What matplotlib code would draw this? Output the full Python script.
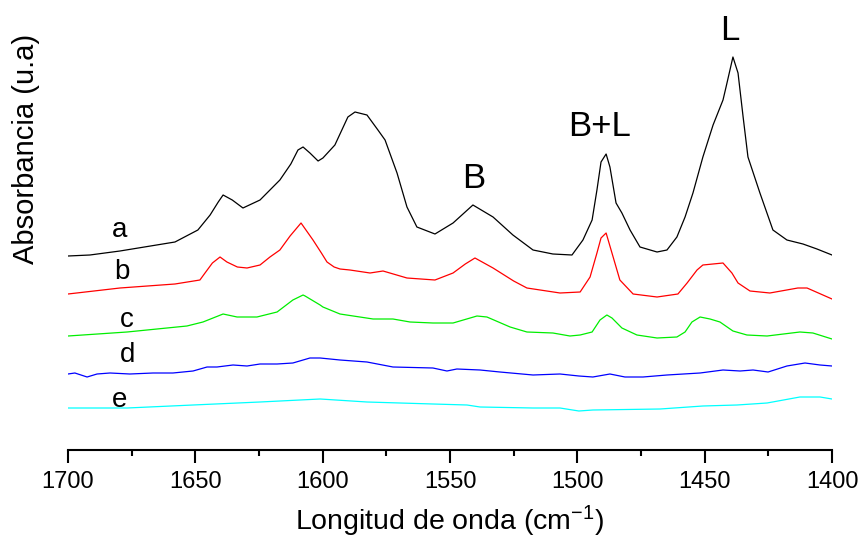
import matplotlib
matplotlib.use('Agg')
import matplotlib.pyplot as plt
from matplotlib.ticker import MultipleLocator

plt.rcParams['font.family'] = ['Liberation Sans', 'DejaVu Sans']
plt.rcParams['mathtext.default'] = 'regular'

# spectrum a (black)
wn_a = [1700, 1691.4, 1679.6, 1658.0, 1649.0, 1644.2, 1641.0, 1639.1, 1635.5, 1631.3,
        1624.6, 1620.7, 1616.8, 1612.5, 1609.7, 1607.7, 1605.0, 1601.8, 1599.9, 1595.2,
        1590.1, 1587.3, 1582.6, 1578.3, 1575.5, 1570.8, 1566.9, 1563.0, 1555.9, 1548.8,
        1541.0, 1533.1, 1525.3, 1517.4, 1509.6, 1502.1, 1497.8, 1494.2, 1492.3, 1490.7,
        1488.7, 1487.2, 1484.8, 1482.5, 1479.3, 1475.4, 1468.7, 1464.8, 1460.9, 1457.7,
        1454.6, 1450.7, 1446.7, 1442.8, 1441.6, 1438.9, 1436.9, 1434.9, 1433.0, 1428.3,
        1423.2, 1417.7, 1411.4, 1405.9, 1400]
abs_a = [1.94, 1.95, 1.99, 2.08, 2.20, 2.35, 2.48, 2.55, 2.50, 2.42,
         2.50, 2.60, 2.70, 2.86, 3.00, 3.03, 2.97, 2.89, 2.92, 3.05,
         3.33, 3.38, 3.35, 3.20, 3.10, 2.77, 2.43, 2.23, 2.16, 2.27,
         2.45, 2.33, 2.15, 2.00, 1.96, 1.95, 2.10, 2.30, 2.60, 2.88,
         2.96, 2.83, 2.47, 2.37, 2.20, 2.03, 1.98, 2.00, 2.13, 2.33,
         2.57, 2.93, 3.25, 3.50, 3.63, 3.93, 3.77, 3.33, 2.93, 2.57,
         2.20, 2.10, 2.06, 2.01, 1.95]

# spectrum b (red)
wn_b = [1700, 1679.6, 1658.0, 1648.2, 1646.2, 1643.3, 1640.3, 1637.6, 1633.5, 1629.7,
        1624.6, 1620.7, 1616.8, 1612.8, 1608.5, 1603.8, 1600.5, 1598.3, 1595.5, 1593.2,
        1589.3, 1581.4, 1576.3, 1566.9, 1555.9, 1548.8, 1544.0, 1540.2, 1533.1, 1525.0,
        1519.8, 1506.8, 1498.9, 1495.0, 1492.3, 1490.7, 1488.7, 1486.4, 1483.3, 1478.1,
        1468.7, 1460.5, 1456.9, 1453.0, 1450.7, 1442.8, 1439.3, 1436.9, 1432.2, 1424.4,
        1413.4, 1409.8, 1400]
abs_b = [1.56, 1.62, 1.66, 1.70, 1.77, 1.87, 1.93, 1.88, 1.83, 1.82,
         1.85, 1.93, 2.00, 2.14, 2.27, 2.10, 1.97, 1.88, 1.83, 1.81,
         1.80, 1.77, 1.79, 1.72, 1.70, 1.77, 1.86, 1.92, 1.82, 1.69,
         1.62, 1.57, 1.58, 1.73, 1.97, 2.12, 2.17, 1.97, 1.70, 1.56,
         1.53, 1.56, 1.67, 1.80, 1.85, 1.87, 1.77, 1.67, 1.59, 1.57,
         1.62, 1.62, 1.51]

# spectrum c (green)
wn_c = [1700, 1676.8, 1653.3, 1647.0, 1639.1, 1633.6, 1625.8, 1617.9, 1611.7, 1607.7,
        1606.9, 1601.0, 1599.9, 1593.2, 1580.2, 1572.4, 1565.7, 1556.7, 1548.8, 1539.4,
        1535.5, 1526.4, 1519.8, 1509.6, 1502.9, 1498.9, 1494.2, 1491.1, 1488.4, 1486.4,
        1482.5, 1476.6, 1468.7, 1460.9, 1457.7, 1455.0, 1451.8, 1447.9, 1444.0, 1438.9,
        1433.4, 1425.5, 1412.6, 1407.5, 1400]
abs_c = [1.14, 1.18, 1.24, 1.28, 1.36, 1.33, 1.33, 1.38, 1.50, 1.55,
         1.54, 1.45, 1.43, 1.36, 1.31, 1.31, 1.28, 1.27, 1.27, 1.34,
         1.33, 1.23, 1.18, 1.17, 1.14, 1.15, 1.18, 1.30, 1.35, 1.32,
         1.22, 1.15, 1.12, 1.13, 1.18, 1.28, 1.33, 1.31, 1.28, 1.19,
         1.15, 1.14, 1.18, 1.17, 1.11]

# spectrum d (blue)
wn_d = [1700, 1697.3, 1692.5, 1688.6, 1683.5, 1675.7, 1666.6, 1658.8, 1650.9, 1645.4,
        1641.5, 1635.2, 1629.7, 1624.6, 1617.9, 1611.7, 1605.0, 1601.0, 1593.2, 1582.6,
        1572.4, 1556.7, 1551.2, 1547.3, 1538.2, 1530.4, 1517.4, 1506.8, 1499.4, 1493.9,
        1487.2, 1481.3, 1474.2, 1464.8, 1451.8, 1442.8, 1436.1, 1431.0, 1425.1, 1417.7,
        1410.6, 1404.7, 1400]
abs_d = [0.76, 0.77, 0.73, 0.76, 0.77, 0.76, 0.77, 0.77, 0.79, 0.83,
         0.83, 0.85, 0.84, 0.86, 0.86, 0.87, 0.92, 0.92, 0.90, 0.88,
         0.83, 0.82, 0.79, 0.81, 0.80, 0.78, 0.75, 0.76, 0.74, 0.73,
         0.76, 0.73, 0.73, 0.75, 0.77, 0.80, 0.79, 0.80, 0.78, 0.84,
         0.87, 0.85, 0.84]

# spectrum e (cyan)
wn_e = [1700, 1676.8, 1650.9, 1624.6, 1601.0, 1582.6, 1556.7, 1543.3, 1538.2, 1517.4,
        1506.8, 1499.4, 1493.9, 1467.5, 1450.7, 1437.3, 1425.5, 1412.6, 1404.7, 1400]
abs_e = [0.42, 0.42, 0.45, 0.48, 0.51, 0.48, 0.46, 0.45, 0.43, 0.42,
         0.42, 0.39, 0.40, 0.41, 0.44, 0.45, 0.47, 0.53, 0.53, 0.51]

series = [
    (wn_a, abs_a, 'black'),
    (wn_b, abs_b, 'red'),
    (wn_c, abs_c, '#00ee00'),
    (wn_d, abs_d, 'blue'),
    (wn_e, abs_e, 'cyan'),
]

curve_labels = ['a', 'b', 'c', 'd', 'e']
curve_label_wn = [1679.6, 1679.0, 1676.8, 1676.8, 1679.6]
curve_label_abs = [2.20, 1.78, 1.30, 0.95, 0.50]

band_labels = ['B', 'B+L', 'L']
band_label_wn = [1540.6, 1491.1, 1440.0]
band_label_abs = [2.72, 3.23, 4.20]

fig = plt.figure(figsize=(8.59, 5.46), dpi=100)
ax = fig.add_axes([68 / 859, 96 / 546, 764 / 859, 440 / 546])

for wn, ab, col in series:
    ax.plot(wn, ab, color=col, linewidth=0.9)

for lab, x, y in zip(curve_labels, curve_label_wn, curve_label_abs):
    ax.text(x, y, lab, fontsize=20, ha='center', va='center')

for lab, x, y in zip(band_labels, band_label_wn, band_label_abs):
    ax.text(x, y, lab, fontsize=25, ha='center', va='center')

ax.set_xlim(1700, 1400)
ax.set_ylim(0, 4.4)

for side in ['top', 'right', 'left']:
    ax.spines[side].set_visible(False)
ax.spines['bottom'].set_linewidth(1.5)

ax.set_yticks([])
ax.xaxis.set_major_locator(MultipleLocator(50))
ax.xaxis.set_minor_locator(MultipleLocator(25))
ax.tick_params(axis='x', which='major', direction='out', length=9, width=1.5,
               labelsize=17, pad=6)
ax.tick_params(axis='x', which='minor', direction='out', length=4.5, width=1.5)

ax.set_xlabel('Longitud de onda (cm$^{-1}$)', fontsize=20.5, labelpad=8)
ax.set_ylabel('Absorbancia (u.a)', fontsize=21, va='center')
ax.yaxis.set_label_coords(-(68 - 26) / 764, (450 - 149) / 440)

plt.savefig('out.png', dpi=100)
